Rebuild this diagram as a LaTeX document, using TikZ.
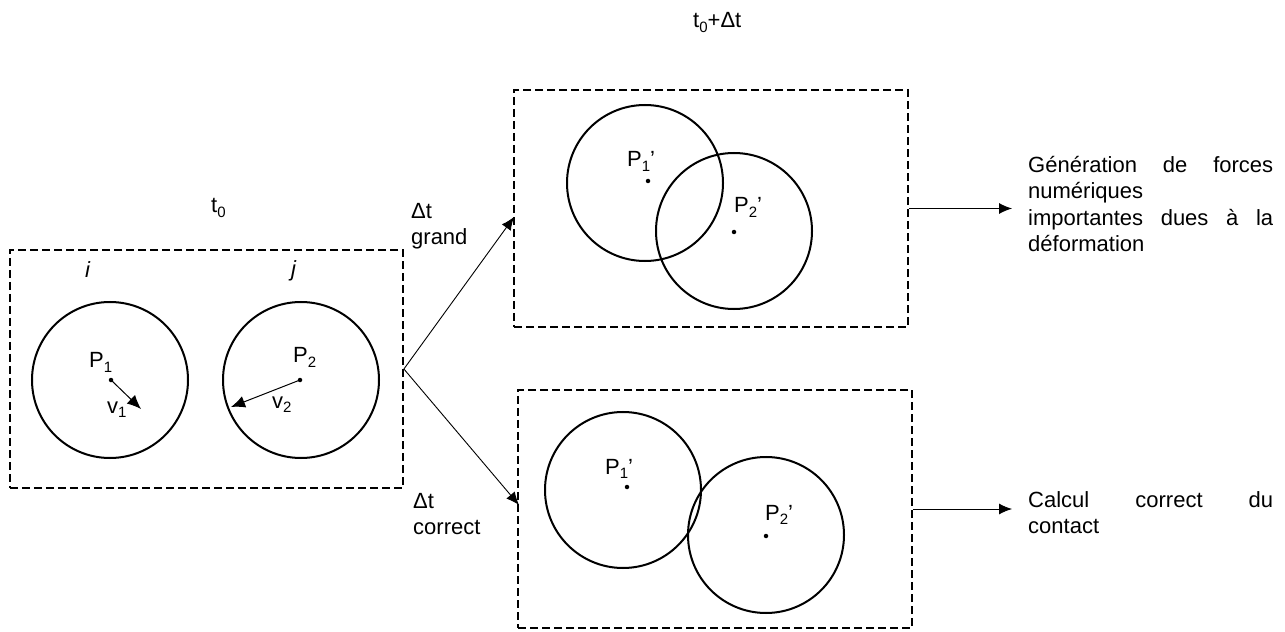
\documentclass[tikz,border=0pt]{standalone}
\usepackage{fontspec}
\setmainfont{Liberation Sans}
\usetikzlibrary{arrows.meta}
\newcommand{\sbs}[1]{\raisebox{-4.5bp}{\fontsize{15bp}{15bp}\selectfont #1}}
\newcommand{\tstrut}{\rule{0pt}{20bp}}
\begin{document}
\begin{tikzpicture}[x=1bp,y=-1bp,
  every node/.style={font=\fontsize{22bp}{26.5bp}\selectfont, inner sep=0pt},
  dbox/.style={draw, line width=1.8bp, dash pattern=on 8bp off 4bp},
  ball/.style={circle, draw, line width=2bp, minimum size=156bp},
  dot/.style={circle, fill, minimum size=4.5bp},
  vel/.style={line width=1bp, -{Latex[length=14bp,width=12bp]}},
  conn/.style={line width=0.9bp, -{Latex[length=13bp,width=11bp]}},
  lbl/.style={anchor=base west}]
\useasboundingbox (0,0) rectangle (1285,632);

% boxes
\node[dbox, minimum width=393bp, minimum height=238bp] (L) at (206.5,369) {};
\node[dbox, minimum width=394bp, minimum height=237bp] (T) at (711,208.5) {};
\node[dbox, minimum width=394bp, minimum height=238bp] (B) at (715,509) {};

% left box
\node[ball] (ci) at (110,380) {};
\node[ball] (cj) at (301,380) {};
\node[dot] (p1) at (111,380) {};
\node[dot] (p2) at (300,380) {};
\coordinate (v1e) at (141,409);
\coordinate (v2e) at (231,407);
\draw[vel] (p1.center) -- (v1e);
\draw[vel] (p2.center) -- (v2e);
\node[lbl] (lp1) at (89,368) {P\sbs{1}};
\node[lbl] (lp2) at (293,363) {P\sbs{2}};
\node[lbl] (lv1) at (107,413) {v\sbs{1}};
\node[lbl] (lv2) at (272,408) {v\sbs{2}};
\node[lbl] (li) at (85,278) {\itshape i};
\node[lbl] (lj) at (291,277) {\itshape j};
\node[lbl] (t0) at (211,213) {t\sbs{0}};

% top box
\node[ball] (ct1) at (645,183) {};
\node[ball] (ct2) at (734,231) {};
\node[dot] (pt1) at (648,181) {};
\node[dot] (pt2) at (734,232) {};
\node[lbl] (lt1) at (627,167) {P\sbs{1}’};
\node[lbl] (lt2) at (734,213) {P\sbs{2}’};
\node[lbl] (t1) at (693,28) {t\sbs{0}+Δt};

% bottom box
\node[ball] (cb1) at (623,490) {};
\node[ball] (cb2) at (766,535) {};
\node[dot] (pb1) at (627,487) {};
\node[dot] (pb2) at (766,536) {};
\node[lbl] (lb1) at (605,474) {P\sbs{1}’};
\node[lbl] (lb2) at (765,520) {P\sbs{2}’};

% branch connectors
\coordinate (tin) at (514,217);
\coordinate (bin) at (519,505);
\draw[conn] (L.east) -- (tin);
\draw[conn] (L.east) -- (bin);
\node[anchor=north west, text width=90bp, align=left] (dg) at (411,198) {\tstrut Δt\\grand};
\node[anchor=north west, text width=90bp, align=left] (dc) at (413,488) {\tstrut Δt\\correct};

% outputs
\coordinate (tout) at (1012,208.5);
\coordinate (bout) at (1012,509);
\draw[conn] (T.east) -- (tout);
\draw[conn] (B.east) -- (bout);
\node[anchor=north west, text width=245bp, align=left] (tt) at (1028,152)
  {\tstrut\makebox[245bp][s]{Génération\hfill de\hfill forces}\\numériques\\\makebox[245bp][s]{importantes\hfill dues\hfill à\hfill la}\\déformation};
\node[anchor=north west, text width=245bp, align=left] (bt) at (1028,487)
  {\tstrut\makebox[245bp][s]{Calcul\hfill correct\hfill du}\\contact};
\end{tikzpicture}
\end{document}
